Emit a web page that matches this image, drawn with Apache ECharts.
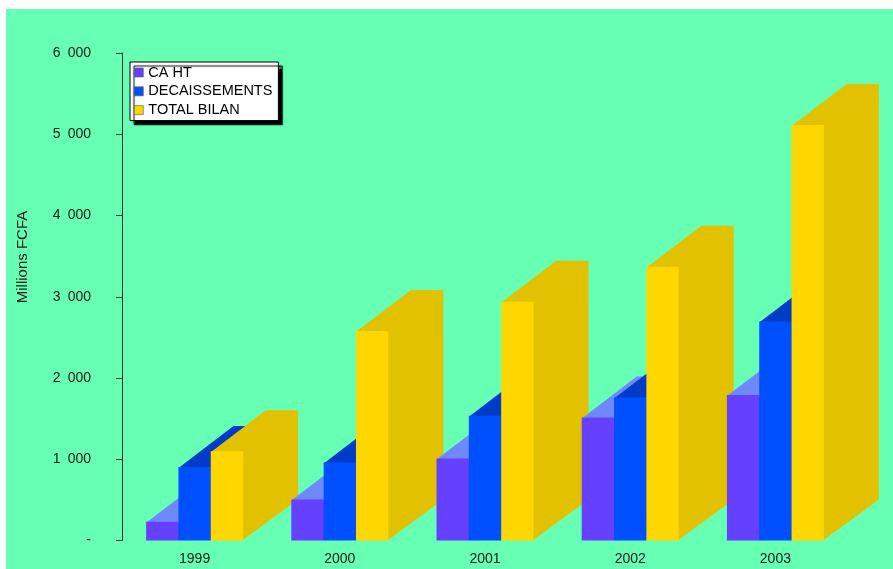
<!DOCTYPE html>
<html>
<head>
<meta charset="utf-8">
<script src="https://cdn.jsdelivr.net/npm/echarts@6/dist/echarts.min.js"></script>
<style>
  html, body { margin: 0; padding: 0; background: #ffffff; }
  #chart { width: 893px; height: 569px; }
</style>
</head>
<body>
<div id="chart"></div>
<script>
// Years on the category axis
const years = ['1999', '2000', '2001', '2002', '2003'];
// Values in millions of FCFA
const caHT = [230, 505, 1010, 1515, 1790];
const decaissements = [905, 960, 1535, 1760, 2695];
const totalBilan = [1100, 2580, 2940, 3370, 5115];
// Value-axis range and step
const yMin = 0;
const yMax = 6000;
const yStep = 1000;

const seriesNames = ['CA HT', 'DECAISSEMENTS', 'TOTAL BILAN'];
const seriesValues = [caHT, decaissements, totalBilan];

// Face colours of each 3D block: front, top, right side
const palette = [
  { front: '#6640ff', top: '#7088ff', side: '#5a38e0' },
  { front: '#0050ff', top: '#003cc8', side: '#0040d0' },
  { front: '#ffd700', top: '#e2c200', side: '#e2c200' }
];

const CLUSTER_FRACTION = 0.668;  // share of a category band taken by the three bars
const DEPTH_X = 0.379;           // receding depth, as a share of the band width
const DEPTH_SLOPE = 0.745;       // vertical rise per horizontal unit of depth
const FONT = '"Liberation Sans", Arial, sans-serif';

// Thousands grouped with an en space; zero shown as a dash
function fmtThousands(v) {
  if (v === 0) return '-';
  return String(v).replace(/\B(?=(\d{3})+(?!\d))/g, '\u2002');
}

function blockSeries(sIdx) {
  const col = palette[sIdx];
  return {
    name: seriesNames[sIdx],
    type: 'custom',
    z: 2,
    itemStyle: { color: col.front },
    encode: { x: 0, y: 1 },
    data: seriesValues[sIdx].map((v, i) => [i, v]),
    renderItem: function (params, api) {
      const idx = api.value(0);
      const base = api.coord([idx, 0]);
      const top = api.coord([idx, api.value(1)]);
      const band = api.size([1, 0])[0];
      const w = band * CLUSTER_FRACTION / 3;
      const x0 = base[0] - band * CLUSTER_FRACTION / 2 + sIdx * w;
      const x1 = x0 + w;
      const dx = band * DEPTH_X;
      const dy = -dx * DEPTH_SLOPE;
      const yb = base[1];
      const yt = top[1];
      // later categories and later series sit in front
      const z2 = idx * 10 + sIdx * 3;
      return {
        type: 'group',
        children: [
          {
            type: 'polygon',
            z2: z2,
            shape: { points: [[x1 - 1, yb], [x1 + dx, yb + dy], [x1 + dx, yt + dy], [x1 - 1, yt]] },
            style: { fill: col.side }
          },
          {
            type: 'polygon',
            z2: z2 + 1,
            shape: { points: [[x0, yt + 1], [x1, yt + 1], [x1 + dx, yt + dy], [x0 + dx, yt + dy]] },
            style: { fill: col.top }
          },
          {
            type: 'rect',
            z2: z2 + 2,
            shape: { x: x0, y: yt, width: w, height: yb - yt },
            style: { fill: col.front }
          }
        ]
      };
    }
  };
}

const chart = echarts.init(document.getElementById('chart'), null, { renderer: 'canvas' });

chart.setOption({
  backgroundColor: '#ffffff',
  animation: false,
  textStyle: { fontFamily: FONT },
  graphic: [
    {
      type: 'rect',
      z: -10,
      silent: true,
      shape: { x: 6, y: 9, width: 887, height: 560 },
      style: { fill: '#66ffb3' }
    },
    {
      type: 'text',
      z: 5,
      silent: true,
      x: 23,
      y: 257,
      rotation: Math.PI / 2,
      style: {
        text: 'Millions FCFA',
        fill: '#1a1a1a',
        font: '15px ' + FONT,
        align: 'center',
        verticalAlign: 'middle'
      }
    }
  ],
  legend: {
    orient: 'vertical',
    left: 130,
    top: 62,
    padding: [3, 6, 3, 4],
    itemGap: 3.8,
    itemWidth: 9,
    itemHeight: 9,
    itemTextGap: 4,
    icon: 'rect',
    itemStyle: { borderColor: '#555555', borderWidth: 0.6 },
    backgroundColor: '#ffffff',
    borderColor: '#000000',
    borderWidth: 1,
    borderRadius: 0,
    shadowColor: '#000000',
    shadowBlur: 1,
    shadowOffsetX: 4,
    shadowOffsetY: 4,
    textStyle: { color: '#000000', fontSize: 14.5, fontFamily: FONT },
    data: seriesNames
  },
  grid: {
    left: 122,
    right: 45,
    top: 53,
    bottom: 28.5,
    containLabel: false
  },
  xAxis: {
    type: 'category',
    data: years,
    axisLine: { show: false },
    axisTick: { show: false },
    axisLabel: { color: '#1a1a1a', fontSize: 14, margin: 12 },
    splitLine: { show: false }
  },
  yAxis: {
    type: 'value',
    min: yMin,
    max: yMax,
    interval: yStep,
    axisLine: { show: true, lineStyle: { color: '#333333', width: 1 } },
    axisTick: { show: true, length: 6, lineStyle: { color: '#333333' } },
    axisLabel: { color: '#1a1a1a', fontSize: 14, margin: 31, formatter: fmtThousands },
    splitLine: { show: false }
  },
  series: [blockSeries(0), blockSeries(1), blockSeries(2)]
});
</script>
</body>
</html>
